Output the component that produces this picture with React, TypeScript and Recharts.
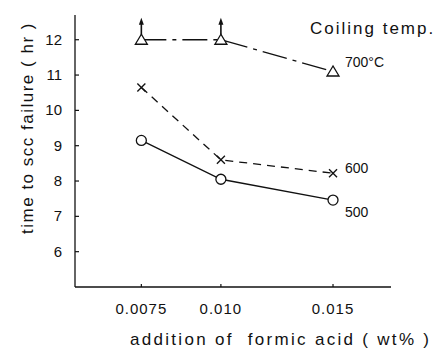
import { LabelList, Line, LineChart, XAxis, YAxis } from "recharts";

// formic acid addition (wt%) and time to SCC failure (hr) per coiling temperature
const additions = [0.0075, 0.01, 0.015];
const xTickLabels = ["0.0075", "0.010", "0.015"];
const yTicks = [6, 7, 8, 9, 10, 11, 12];

const temp700 = [12.0, 12.0, 11.1];
const temp600 = [10.65, 8.6, 8.22];
const temp500 = [9.15, 8.05, 7.46];
// specimens that had not failed when the test was stopped
const notFailed700 = [true, true, false];

const seriesNames = ["700°C", "600", "500"];

const data = additions.map((a, i) => ({
  addition: a,
  t700: temp700[i],
  t600: temp600[i],
  t500: temp500[i],
}));

const INK = "#111";
const FONT = "'Liberation Sans', Arial, sans-serif";
const AXIS_Y = 287;

const XTick = ({ x, index }: any) => (
  <g>
    <line x1={x} y1={AXIS_Y} x2={x} y2={AXIS_Y - 3} stroke={INK} strokeWidth={1.2} />
    <text
      x={x}
      y={AXIS_Y + 27}
      textAnchor="middle"
      fontSize={15}
      letterSpacing={1}
      fill={INK}
      fontFamily={FONT}
    >
      {xTickLabels[index]}
    </text>
  </g>
);

const YTick = ({ x, y, payload }: any) => (
  <g>
    <line x1={x} y1={y} x2={x + 4} y2={y} stroke={INK} strokeWidth={1.2} />
    <text
      x={x - 13}
      y={y + 5}
      textAnchor="end"
      fontSize={15}
      fill={INK}
      fontFamily={FONT}
    >
      {payload.value}
    </text>
  </g>
);

const TriangleDot = (props: any) => {
  const { cx, cy, index } = props;
  const up = notFailed700[index];
  return (
    <g key={`tri-${index}`}>
      {up && (
        <>
          <line x1={cx} y1={cy - 5} x2={cx} y2={cy - 18} stroke={INK} strokeWidth={1.6} />
          <polygon
            points={`${cx},${cy - 22} ${cx - 2.5},${cy - 15} ${cx + 2.5},${cy - 15}`}
            fill={INK}
          />
        </>
      )}
      <polygon
        points={`${cx},${cy - 5.5} ${cx - 6},${cy + 4.5} ${cx + 6},${cy + 4.5}`}
        fill="#fff"
        stroke={INK}
        strokeWidth={1.3}
      />
    </g>
  );
};

const CrossDot = (props: any) => {
  const { cx, cy, index } = props;
  const s = 4;
  return (
    <g key={`x-${index}`}>
      <line x1={cx - s} y1={cy - s} x2={cx + s} y2={cy + s} stroke={INK} strokeWidth={1.3} />
      <line x1={cx - s} y1={cy + s} x2={cx + s} y2={cy - s} stroke={INK} strokeWidth={1.3} />
    </g>
  );
};

const CircleDot = (props: any) => {
  const { cx, cy, index } = props;
  return (
    <circle
      key={`o-${index}`}
      cx={cx}
      cy={cy}
      r={5}
      fill="#fff"
      stroke={INK}
      strokeWidth={1.3}
    />
  );
};

// series name written beside the last point
const endLabel = (name: string, dx: number, dy: number) => (props: any) => {
  const { x, y, index } = props;
  if (index !== additions.length - 1) return null;
  return (
    <text
      key={`lbl-${name}`}
      x={x + dx}
      y={y + dy}
      fontSize={14}
      fill={INK}
      fontFamily={FONT}
    >
      {name}
    </text>
  );
};

export default function App() {
  return (
    <div
      style={{
        position: "absolute",
        left: 0,
        top: 0,
        width: 445,
        height: 352,
        background: "#fff",
        fontFamily: FONT,
        color: INK,
      }}
    >
      <LineChart
        width={445}
        height={352}
        data={data}
        margin={{ top: 15, right: 54, bottom: 35, left: 15 }}
      >
        <XAxis
          dataKey="addition"
          type="number"
          scale="log"
          domain={[0.0059, 0.0185]}
          ticks={additions}
          allowDataOverflow
          height={30}
          tickSize={0}
          tickMargin={0}
          tickLine={false}
          tick={XTick}
          axisLine={{ stroke: INK, strokeWidth: 1.3 }}
        />
        <YAxis
          type="number"
          domain={[5, 12.7]}
          ticks={yTicks}
          allowDataOverflow
          width={60}
          tickSize={0}
          tickMargin={0}
          tickLine={false}
          tick={YTick}
          axisLine={{ stroke: INK, strokeWidth: 1.3 }}
        />
        <Line
          dataKey="t700"
          stroke={INK}
          strokeWidth={1.3}
          strokeDasharray="25 6 4 6"
          dot={TriangleDot}
          isAnimationActive={false}
        >
          <LabelList dataKey="t700" content={endLabel(seriesNames[0], 12, -5)} />
        </Line>
        <Line
          dataKey="t600"
          stroke={INK}
          strokeWidth={1.3}
          strokeDasharray="8 6"
          dot={CrossDot}
          isAnimationActive={false}
        >
          <LabelList dataKey="t600" content={endLabel(seriesNames[1], 12, 0)} />
        </Line>
        <Line
          dataKey="t500"
          stroke={INK}
          strokeWidth={1.3}
          dot={CircleDot}
          isAnimationActive={false}
        >
          <LabelList dataKey="t500" content={endLabel(seriesNames[2], 12, 17)} />
        </Line>
      </LineChart>

      <div
        style={{
          position: "absolute",
          left: 310,
          top: 19,
          fontSize: 17,
          letterSpacing: 2,
          whiteSpace: "nowrap",
        }}
      >
        Coiling temp.
      </div>
      <div
        style={{
          position: "absolute",
          left: 130,
          top: 330,
          fontSize: 17,
          letterSpacing: 2.3,
          whiteSpace: "pre",
        }}
      >
        {"addition of  formic acid ( wt% )"}
      </div>
      <div
        style={{
          position: "absolute",
          left: 28,
          top: 128,
          fontSize: 17,
          letterSpacing: 1.5,
          whiteSpace: "nowrap",
          transform: "translate(-50%, -50%) rotate(-90deg)",
        }}
      >
        time to scc failure ( hr )
      </div>
    </div>
  );
}
